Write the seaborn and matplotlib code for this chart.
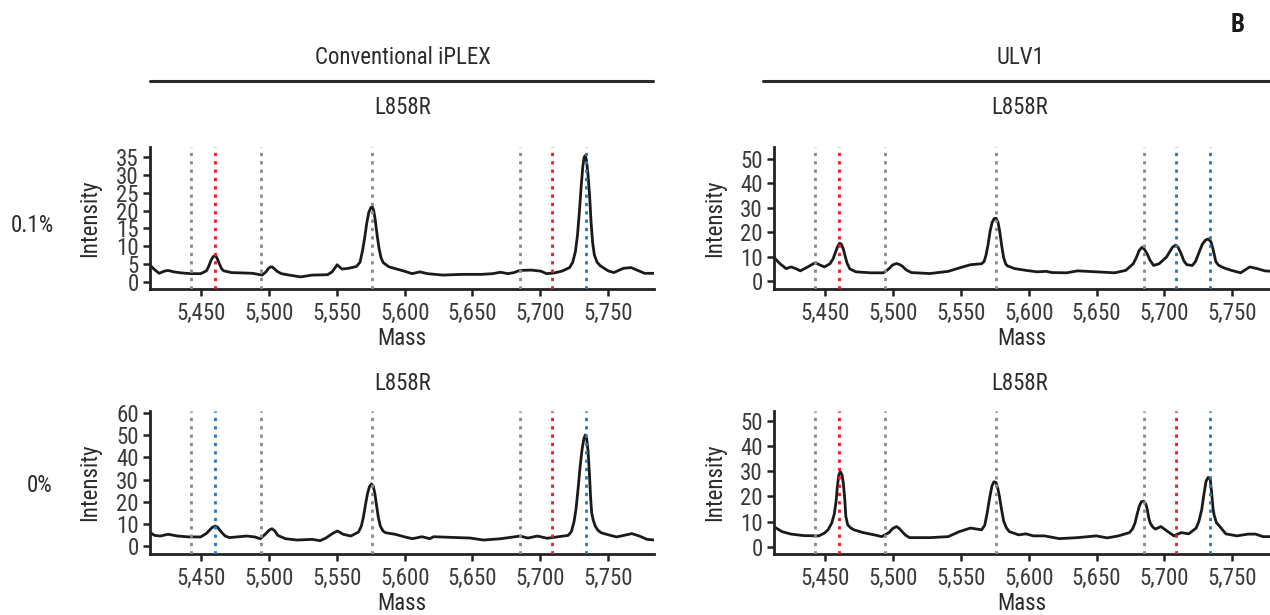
import matplotlib
matplotlib.use('Agg')
import matplotlib.pyplot as plt
import matplotlib.ticker as plticker
import pandas as pd
import seaborn as sns

# spectra (mass, intensity)
MASS_TL = [5412, 5415.4, 5418.8, 5422.5, 5425.3, 5429.6, 5435.3, 5442.3, 5449.4, 5453.7, 5455.5, 5457,
           5458.5, 5459.6, 5460.8, 5462, 5463.6, 5465, 5466.4, 5472.1, 5480.6, 5487.7, 5492, 5494.8,
           5497.6, 5499.5, 5501, 5502.5, 5504, 5506, 5509, 5514.7, 5523.2, 5531.7, 5543, 5546.4,
           5548.5, 5550.1, 5551.5, 5553.8, 5558.6, 5564.3, 5567, 5569, 5570.5, 5572, 5573.5, 5575,
           5576, 5577, 5578.2, 5579.5, 5581, 5582.5, 5584.1, 5588.4, 5594.1, 5599.7, 5605.4, 5611.1,
           5616.8, 5628.1, 5642.3, 5656.5, 5665, 5670.6, 5676.3, 5680.6, 5684.8, 5693.3, 5700.5, 5704.7,
           5710.4, 5716, 5721.7, 5724, 5726, 5727.5, 5729, 5730.3, 5731.5, 5732.5, 5733.3, 5734.2,
           5735.3, 5736.5, 5737.5, 5738.7, 5740, 5742, 5744.4, 5750.1, 5754.3, 5761.4, 5767.1, 5772.7,
           5777, 5784]
INT_TL = [4.7, 3.4, 2.4, 3.0, 3.2, 2.8, 2.5, 2.3, 2.3, 3.1, 4.5, 6.0,
          7.0, 7.3, 7.1, 6.2, 4.7, 3.6, 3.1, 2.6, 2.5, 2.4, 2.1, 1.9,
          2.8, 3.8, 4.2, 4.1, 3.6, 2.9, 2.3, 1.9, 1.4, 1.9, 2.0, 2.8,
          3.9, 4.8, 4.3, 3.6, 3.8, 4.3, 5.5, 9.0, 12.5, 16.5, 19.5, 20.8,
          21.0, 20.2, 17.5, 13.5, 9.5, 6.8, 5.4, 4.2, 3.6, 3.0, 2.3, 2.8,
          2.3, 1.9, 2.1, 2.1, 2.3, 2.7, 2.3, 2.6, 3.2, 3.3, 3.0, 2.3,
          2.5, 3.0, 4.0, 5.5, 8.5, 13.0, 20.0, 27.0, 32.5, 35.0, 35.4, 34.0,
          30.0, 24.0, 17.0, 11.0, 7.5, 5.5, 4.5, 3.1, 2.6, 3.8, 4.0, 3.1,
          2.4, 2.4]

MASS_TR = [5411.8, 5416.4, 5421, 5424.6, 5428.2, 5431.4, 5436.9, 5442.4, 5449.2, 5453.3, 5455.5, 5457.4,
           5459, 5460.5, 5461.8, 5463.2, 5464.6, 5466, 5468, 5472.4, 5483.3, 5492.8, 5496.9, 5499.5,
           5502.4, 5504.5, 5506.5, 5509.5, 5513.3, 5527, 5540.6, 5548.8, 5557, 5565.2, 5567, 5568.4,
           5570, 5571.5, 5573, 5574.5, 5576, 5577.3, 5578.5, 5580, 5581.5, 5583, 5584.3, 5589.7,
           5597.9, 5606.1, 5612.9, 5617, 5627.9, 5636.1, 5649.8, 5663.4, 5671.6, 5677.1, 5679.5, 5681.5,
           5683.5, 5685.3, 5687.4, 5689.5, 5692.1, 5696.2, 5701.6, 5704, 5706, 5708.3, 5710.2, 5712.5,
           5714.5, 5716.6, 5720.7, 5723, 5725.5, 5728, 5730.5, 5732.5, 5734.5, 5736.2, 5738, 5740,
           5744, 5749.5, 5756.3, 5763.1, 5768.6, 5774.1, 5780]
INT_TR = [9.8, 7.1, 5.1, 5.8, 5.1, 4.2, 5.8, 7.5, 5.8, 7.1, 9.0, 11.8,
          14.2, 15.5, 15.0, 13.0, 10.0, 7.2, 5.0, 3.8, 3.4, 3.4, 5.1, 6.6,
          7.2, 6.8, 6.2, 4.6, 3.5, 3.1, 4.0, 5.4, 6.7, 7.1, 8.0, 10.5,
          15.0, 20.5, 24.0, 25.5, 25.6, 24.0, 20.5, 14.5, 9.5, 7.0, 6.2, 5.1,
          4.4, 3.8, 4.0, 3.5, 3.4, 4.2, 3.8, 3.4, 4.4, 7.1, 9.8, 12.5,
          13.8, 13.0, 11.1, 8.5, 6.4, 7.1, 9.8, 12.0, 13.8, 14.7, 13.8, 11.1,
          8.2, 6.7, 6.4, 8.0, 11.5, 15.0, 16.8, 17.2, 16.0, 12.5, 8.0, 6.5,
          5.4, 4.4, 3.4, 5.8, 5.1, 4.2, 4.0]

MASS_BL = [5411.6, 5415.3, 5419.6, 5425.3, 5432.4, 5440.9, 5449.4, 5453.7, 5456, 5458, 5460, 5461.8,
           5463.5, 5465.1, 5467.5, 5470.7, 5477.8, 5483.5, 5489.2, 5493.5, 5497.7, 5500, 5502, 5504,
           5506.3, 5511.9, 5520.5, 5531.8, 5537.5, 5541.8, 5546.6, 5550.3, 5554.5, 5560.2, 5565.9, 5568,
           5569.5, 5571, 5572.5, 5574, 5575.5, 5576.8, 5578, 5579.3, 5580.5, 5582, 5584, 5585.8,
           5592.9, 5600, 5605.7, 5612.8, 5618.5, 5621.3, 5634.1, 5648.3, 5658.2, 5671, 5685.2, 5690.9,
           5698, 5705.1, 5713.6, 5720.7, 5723, 5725, 5726.5, 5728, 5729.5, 5731, 5732.3, 5733.3,
           5734.3, 5735.3, 5736.3, 5737.2, 5738, 5739, 5740.6, 5742.5, 5744.9, 5750.6, 5756.3, 5761.9,
           5767.6, 5773.2, 5778.9, 5784.7]
INT_BL = [6.3, 4.8, 4.5, 5.3, 4.5, 4.1, 4.1, 5.7, 7.2, 8.4, 9.0, 8.6,
          7.2, 6.0, 4.5, 3.8, 4.2, 4.5, 4.1, 3.3, 5.7, 7.2, 7.8, 6.9,
          4.8, 3.3, 2.7, 3.0, 2.4, 3.6, 5.6, 6.8, 5.3, 4.5, 6.3, 9.0,
          13.0, 18.5, 23.5, 26.8, 28.0, 27.0, 23.5, 18.0, 13.0, 9.0, 6.8, 6.0,
          5.3, 4.1, 3.3, 4.2, 3.3, 4.2, 3.9, 3.6, 2.7, 3.3, 4.5, 3.6,
          4.5, 3.5, 4.2, 4.8, 6.5, 11.0, 17.0, 26.0, 36.0, 44.0, 48.5, 50.1,
          48.5, 43.0, 33.0, 22.0, 15.0, 12.0, 9.0, 7.2, 6.0, 5.0, 4.1, 4.8,
          5.6, 4.5, 3.0, 2.7]

MASS_BR = [5411.8, 5417.8, 5424.6, 5434.2, 5445.1, 5449.2, 5452, 5454.6, 5456.5, 5457.8, 5458.8, 5459.8,
           5461, 5462.2, 5463.2, 5464.2, 5465, 5466.4, 5468.5, 5471, 5477.8, 5486, 5491.5, 5496.9,
           5499.5, 5502.4, 5504.5, 5506.5, 5509, 5512, 5527, 5540.6, 5548.8, 5557, 5565.2, 5567.5,
           5569.3, 5571, 5572.8, 5574.3, 5575.8, 5577.2, 5578.3, 5580, 5581.5, 5583.5, 5585.6, 5592.5,
           5597.9, 5603.4, 5611.6, 5622.5, 5636.1, 5649.8, 5658, 5666.2, 5674.3, 5676.5, 5678.4, 5680,
           5681.5, 5683, 5684.7, 5686.3, 5687.4, 5688.5, 5689.6, 5691.5, 5693.5, 5697.5, 5701.6, 5707.1,
           5712.5, 5718, 5723.5, 5725.5, 5727.6, 5729.3, 5730.8, 5732.3, 5733.9, 5735, 5736, 5736.8,
           5738.5, 5739.9, 5745.4, 5753.6, 5761.8, 5767.3, 5772.8, 5780]
INT_BR = [8.0, 6.0, 5.0, 4.4, 4.3, 5.4, 6.8, 9.4, 13.0, 18.0, 24.0, 28.5,
          29.8, 28.5, 25.0, 19.0, 12.0, 8.7, 7.5, 6.7, 5.6, 4.7, 4.0, 5.6,
          7.2, 8.0, 7.2, 6.0, 4.6, 3.6, 3.6, 4.0, 6.0, 7.4, 6.7, 8.5,
          13.4, 19.0, 24.1, 25.8, 25.5, 23.0, 20.1, 14.5, 10.1, 7.5, 6.0, 4.7,
          5.1, 4.3, 4.3, 3.2, 3.6, 4.3, 3.5, 4.3, 5.6, 7.0, 9.4, 13.0,
          16.0, 17.8, 18.1, 17.0, 15.0, 11.5, 9.4, 7.8, 7.0, 8.0, 6.4, 4.3,
          5.6, 5.1, 7.4, 10.0, 14.7, 21.0, 26.0, 27.5, 26.8, 21.0, 15.0, 12.5,
          9.5, 8.7, 5.1, 4.3, 5.0, 5.0, 4.0, 4.0]

# expected masses (dotted lines) and their kind per panel
MARKER_MASS = [5442, 5460, 5494, 5576, 5685, 5709, 5734]
KINDS_TL = ['ref', 'mut', 'ref', 'ref', 'ref', 'mut', 'wt']
KINDS_TR = ['ref', 'mut', 'ref', 'ref', 'ref', 'wt', 'wt']
KINDS_BL = ['ref', 'wt', 'ref', 'ref', 'ref', 'mut', 'wt']
KINDS_BR = ['ref', 'mut', 'ref', 'ref', 'ref', 'mut', 'wt']

Y_TICKS_TL = [0, 5, 10, 15, 20, 25, 30, 35]
Y_TICKS_TR = [0, 10, 20, 30, 40, 50]
Y_TICKS_BL = [0, 10, 20, 30, 40, 50, 60]
Y_TICKS_BR = [0, 10, 20, 30, 40, 50]
X_TICKS = [5450, 5500, 5550, 5600, 5650, 5700, 5750]

KIND_COLORS = {'ref': '#8a8a8a', 'mut': '#ec1c24', 'wt': '#1f7ac4'}
W, H = 1270, 615
TEXT_COLOR = '#2b2b2b'
FONT_SIZE = 16.5


def px_rect(left, top, right, bottom):
    return [left / W, 1 - bottom / H, (right - left) / W, (bottom - top) / H]


def draw_panel(fig, rect, mass, intensity, kinds, yticks, ylim, xlim):
    ax = fig.add_axes(px_rect(*rect))
    data = pd.DataFrame({'Mass': mass, 'Intensity': intensity})
    sns.lineplot(x='Mass', y='Intensity', data=data, ax=ax, color='#1a1a1a', linewidth=2.0, zorder=2)
    for m, k in zip(MARKER_MASS, kinds):
        ax.axvline(m, color=KIND_COLORS[k], linestyle=(0, (1.2, 1.8)), linewidth=2.0, zorder=3)
    ax.set_xlim(*xlim)
    ax.set_ylim(*ylim)
    ax.set_xticks(X_TICKS)
    ax.set_yticks(yticks)
    ax.xaxis.set_major_formatter(plticker.StrMethodFormatter('{x:,.0f}'))
    ax.tick_params(direction='out', length=5, width=1.8, color='#222222', labelsize=FONT_SIZE,
                   labelcolor='#3a3a3a', pad=3)
    ax.tick_params(axis='x', pad=4)
    ax.set_xlabel('Mass', fontsize=FONT_SIZE, color=TEXT_COLOR, labelpad=2)
    ax.set_ylabel('Intensity', fontsize=FONT_SIZE, color=TEXT_COLOR)
    ax.yaxis.set_label_coords(-0.097, 0.5)
    sns.despine(ax=ax)
    for side in ('left', 'bottom'):
        ax.spines[side].set_linewidth(2.0)
        ax.spines[side].set_color('#222222')
    ax.set_facecolor('none')
    return ax


def main():
    sns.set_theme(style='ticks')
    plt.rcParams['font.family'] = ['Roboto Condensed', 'Liberation Sans Narrow', 'Roboto', 'DejaVu Sans']
    fig = plt.figure(figsize=(W / 100, H / 100), dpi=100)

    draw_panel(fig, (150, 147, 654, 289), MASS_TL, INT_TL, KINDS_TL, Y_TICKS_TL, (-2.0, 37.8), (5412, 5784))
    draw_panel(fig, (774, 147, 1270, 289), MASS_TR, INT_TR, KINDS_TR, Y_TICKS_TR, (-3.2, 54.7), (5412, 5778))
    draw_panel(fig, (150, 411, 654, 554), MASS_BL, INT_BL, KINDS_BL, Y_TICKS_BL, (-3.6, 60.9), (5412, 5784))
    draw_panel(fig, (774, 411, 1270, 554), MASS_BR, INT_BR, KINDS_BR, Y_TICKS_BR, (-2.9, 53.9), (5412, 5778))

    # strip titles and rules
    fig.text(403 / W, 1 - 58 / H, 'Conventional iPLEX', ha='center', va='center', fontsize=FONT_SIZE,
             color=TEXT_COLOR)
    fig.text(1020 / W, 1 - 58 / H, 'ULV1', ha='center', va='center', fontsize=FONT_SIZE, color=TEXT_COLOR)
    fig.add_artist(plt.Line2D([150 / W, 653 / W], [1 - 80.5 / H] * 2, color='#2b2b2b', linewidth=2.2))
    fig.add_artist(plt.Line2D([763 / W, 1270 / W], [1 - 80.5 / H] * 2, color='#2b2b2b', linewidth=2.2))
    for x in (403, 1020):
        fig.text(x / W, 1 - 107 / H, 'L858R', ha='center', va='center', fontsize=FONT_SIZE, color=TEXT_COLOR)
        fig.text(x / W, 1 - 383 / H, 'L858R', ha='center', va='center', fontsize=FONT_SIZE, color=TEXT_COLOR)

    # row labels
    fig.text(32 / W, 1 - 225 / H, '0.1%', ha='center', va='center', fontsize=FONT_SIZE, color=TEXT_COLOR)
    fig.text(40 / W, 1 - 486 / H, '0%', ha='center', va='center', fontsize=FONT_SIZE, color=TEXT_COLOR)

    fig.text(1238 / W, 1 - 25 / H, 'B', ha='center', va='center', fontsize=18, fontweight='bold',
             color='#1a1a1a')

    fig.savefig('out.png', dpi=100)


if __name__ == '__main__':
    main()
